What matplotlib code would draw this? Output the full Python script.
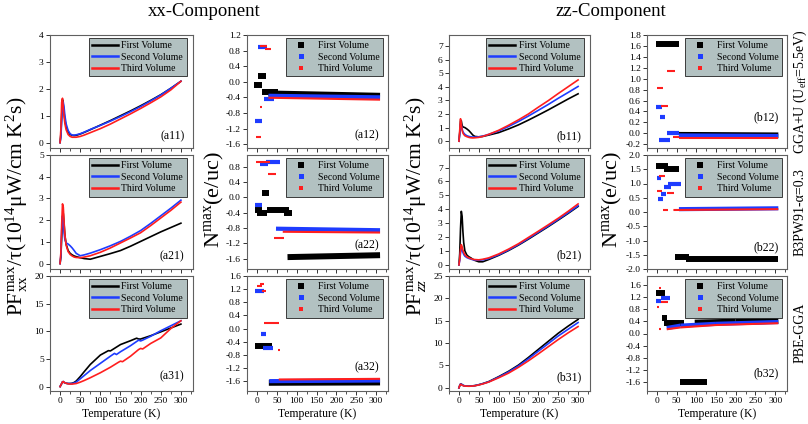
import matplotlib
matplotlib.use('Agg')
import matplotlib.pyplot as plt
from matplotlib.lines import Line2D
from matplotlib.ticker import MultipleLocator

plt.rcParams['font.family'] = ['Liberation Serif', 'DejaVu Serif']
plt.rcParams['mathtext.fontset'] = 'custom'
plt.rcParams['mathtext.rm'] = 'Liberation Serif'
plt.rcParams['mathtext.it'] = 'Liberation Serif:italic'

# ---------------- data ----------------
series_names = ['First Volume', 'Second Volume', 'Third Volume']
colors = ['#000000', '#1e3cff', '#ff1e1e']

T_pf = [0, 2, 4, 6, 8, 10, 12, 15, 20, 25, 30, 35, 40, 50, 60, 75, 100, 125, 150, 175, 200, 225, 250, 275, 300]

a11_first = [0, 0.3, 1.0, 1.6, 1.4, 1.1, 0.85, 0.6, 0.4, 0.3, 0.27, 0.26, 0.27, 0.32, 0.38, 0.48, 0.65, 0.82, 1.0, 1.18, 1.37, 1.57, 1.78, 2.02, 2.28]
a11_second = [0, 0.2, 0.8, 1.45, 1.5, 1.3, 1.0, 0.7, 0.45, 0.33, 0.28, 0.28, 0.29, 0.33, 0.39, 0.49, 0.64, 0.80, 0.97, 1.15, 1.34, 1.55, 1.77, 2.02, 2.28]
a11_third = [0, 0.5, 1.5, 1.65, 1.3, 0.95, 0.7, 0.48, 0.3, 0.23, 0.2, 0.2, 0.2, 0.23, 0.28, 0.37, 0.52, 0.69, 0.88, 1.07, 1.27, 1.48, 1.70, 1.96, 2.28]

a21_first = [0, 0.3, 1.2, 2.1, 2.3, 1.8, 1.3, 0.9, 0.6, 0.47, 0.40, 0.35, 0.32, 0.27, 0.23, 0.20, 0.33, 0.46, 0.60, 0.80, 1.02, 1.24, 1.46, 1.66, 1.86]
a21_second = [0, 0.4, 1.5, 2.2, 1.95, 1.4, 1.1, 0.95, 0.9, 0.82, 0.72, 0.6, 0.47, 0.36, 0.40, 0.48, 0.64, 0.82, 1.02, 1.26, 1.52, 1.85, 2.2, 2.55, 2.92]
a21_third = [0, 0.5, 1.8, 2.75, 2.6, 1.9, 1.3, 0.85, 0.55, 0.42, 0.35, 0.30, 0.28, 0.27, 0.30, 0.36, 0.52, 0.72, 0.95, 1.18, 1.42, 1.75, 2.1, 2.45, 2.83]

a31_first_T = [0, 3, 6, 8, 10, 15, 20, 25, 30, 35, 40, 50, 60, 75, 100, 115, 120, 125, 150, 175, 185, 190, 195, 200, 225, 250, 275, 300]
a31_first = [0, 0.4, 0.85, 0.9, 0.75, 0.6, 0.55, 0.55, 0.6, 0.75, 1.0, 1.8, 2.7, 4.0, 5.7, 6.3, 6.5, 6.45, 7.6, 8.3, 8.6, 8.75, 8.6, 8.6, 9.2, 9.9, 10.6, 11.3]
a31_second_T = [0, 3, 6, 8, 10, 15, 20, 25, 30, 35, 40, 50, 60, 75, 100, 125, 135, 140, 150, 175, 195, 200, 205, 225, 250, 275, 300]
a31_second = [0, 0.4, 0.85, 0.9, 0.75, 0.6, 0.55, 0.55, 0.55, 0.65, 0.8, 1.4, 2.0, 2.9, 4.2, 5.5, 6.0, 5.8, 6.3, 7.4, 8.4, 8.25, 8.4, 9.1, 10.1, 11.0, 11.9]
a31_third_T = [0, 3, 6, 8, 10, 15, 20, 25, 30, 35, 40, 50, 60, 75, 100, 125, 145, 150, 155, 175, 195, 200, 205, 225, 250, 275, 300]
a31_third = [0, 0.4, 0.85, 0.9, 0.75, 0.6, 0.5, 0.45, 0.45, 0.5, 0.55, 0.8, 1.1, 1.6, 2.5, 3.5, 4.4, 4.6, 4.5, 5.5, 6.7, 6.9, 6.8, 7.8, 8.8, 10.5, 11.9]

b11_first = [0, 0.6, 1.5, 1.5, 1.15, 1.05, 1.03, 1.0, 0.9, 0.78, 0.62, 0.45, 0.35, 0.32, 0.35, 0.45, 0.63, 0.9, 1.2, 1.55, 1.92, 2.3, 2.7, 3.1, 3.48]
b11_second = [0, 0.5, 1.25, 1.2, 0.9, 0.7, 0.6, 0.5, 0.4, 0.35, 0.32, 0.3, 0.3, 0.32, 0.37, 0.5, 0.75, 1.08, 1.45, 1.85, 2.27, 2.7, 3.15, 3.58, 4.02]
b11_third = [0, 0.8, 1.65, 1.2, 0.8, 0.6, 0.5, 0.4, 0.33, 0.28, 0.25, 0.24, 0.25, 0.28, 0.35, 0.5, 0.8, 1.17, 1.57, 2.0, 2.5, 2.98, 3.5, 4.0, 4.5]

b21_first = [0, 0.8, 2.6, 3.85, 3.5, 2.4, 1.6, 1.0, 0.7, 0.58, 0.5, 0.4, 0.32, 0.22, 0.22, 0.38, 0.68, 1.03, 1.42, 1.85, 2.3, 2.75, 3.22, 3.7, 4.2]
b21_second = [0, 0.3, 0.85, 1.2, 1.1, 0.9, 0.75, 0.62, 0.52, 0.46, 0.41, 0.37, 0.35, 0.33, 0.36, 0.45, 0.72, 1.07, 1.46, 1.9, 2.35, 2.8, 3.27, 3.75, 4.25]
b21_third = [0, 0.4, 1.1, 1.45, 1.3, 1.05, 0.9, 0.72, 0.58, 0.5, 0.45, 0.4, 0.38, 0.36, 0.4, 0.5, 0.78, 1.13, 1.52, 1.97, 2.42, 2.88, 3.35, 3.85, 4.38]

b31_first = [0, 0.5, 0.85, 0.85, 0.7, 0.6, 0.5, 0.45, 0.4, 0.38, 0.4, 0.45, 0.5, 0.7, 0.95, 1.4, 2.5, 3.7, 5.1, 6.8, 8.6, 10.4, 12.2, 13.8, 15.3]
b31_second = [0, 0.5, 0.85, 0.85, 0.7, 0.6, 0.5, 0.45, 0.4, 0.38, 0.4, 0.45, 0.5, 0.7, 0.93, 1.35, 2.4, 3.55, 4.9, 6.5, 8.2, 9.9, 11.6, 13.1, 14.6]
b31_third = [0, 0.5, 0.8, 0.75, 0.6, 0.5, 0.45, 0.42, 0.38, 0.36, 0.38, 0.42, 0.47, 0.65, 0.88, 1.3, 2.25, 3.3, 4.6, 6.05, 7.6, 9.2, 10.8, 12.3, 13.7]

# N^max runs: (T_start, T_end, N_start, N_end)
a12_first = [(-7, 14, -0.09, -0.09), (2, 23, 0.16, 0.16), (12, 52, -0.25, -0.25), (29, 310, -0.30, -0.36)]
a12_second = [(-5, 12, -1.01, -1.01), (3, 25, 0.88, 0.88), (18, 43, -0.43, -0.43), (29, 310, -0.36, -0.40)]
a12_third = [(-3, 9, -1.42, -1.42), (8, 13, -0.66, -0.66), (8, 25, 0.93, 0.93), (20, 35, 0.84, 0.84), (29, 310, -0.41, -0.46)]

a22_first = [(-5, 12, -0.34, -0.34), (-1, 25, -0.42, -0.42), (14, 31, 0.12, 0.12), (25, 80, -0.34, -0.34), (69, 88, -0.42, -0.42), (77, 310, -1.56, -1.51)]
a22_second = [(-5, 14, -0.21, -0.21), (8, 29, 0.87, 0.87), (23, 57, 0.93, 0.93), (48, 310, -0.82, -0.86)]
a22_third = [(-3, 33, 0.91, 0.91), (29, 48, 0.61, 0.61), (43, 69, -1.05, -1.05), (65, 310, -0.90, -0.92)]

a32_first = [(-4, 38, -0.54, -0.54), (30, 310, -1.65, -1.64)]
a32_second = [(-4, 17, 1.15, 1.15), (10, 24, -0.17, -0.17), (15, 41, -0.60, -0.60), (31, 310, -1.60, -1.58)]
a32_third = [(0, 13, 1.30, 1.30), (8, 17, 1.35, 1.35), (14, 22, 1.13, 1.13), (19, 55, 0.17, 0.17), (52, 57, -0.64, -0.64), (55, 310, -1.55, -1.53)]

b12_first = [(-3, 56, 1.63, 1.63), (56, 308, -0.03, -0.04)]
b12_second = [(-3, 13, 0.49, 0.49), (8, 21, 0.29, 0.29), (6, 33, -0.12, -0.12), (25, 56, 0.0, 0.0), (56, 308, -0.04, -0.05)]
b12_third = [(0, 15, 0.82, 0.82), (11, 29, 0.50, 0.50), (25, 46, 1.14, 1.14), (42, 56, -0.07, -0.07), (56, 308, -0.09, -0.09)]

b22_first = [(-3, 29, 1.62, 1.62), (19, 56, 1.52, 1.52), (46, 81, -1.57, -1.57), (75, 308, -1.65, -1.65)]
b22_second = [(0, 11, 1.18, 1.18), (4, 15, 0.45, 0.45), (11, 23, 0.62, 0.62), (17, 36, 0.88, 0.88), (29, 62, 1.0, 1.0), (56, 308, 0.10, 0.13)]
b22_third = [(6, 21, 1.27, 1.27), (0, 13, 0.72, 0.72), (25, 44, 0.67, 0.67), (15, 28, 0.07, 0.07), (42, 308, 0.07, 0.10)]

b32_first = [(-3, 21, 1.35, 1.35), (13, 25, 0.50, 0.50), (17, 69, 0.35, 0.35), (58, 128, -1.60, -1.60), (96, 200, 0.36, 0.39), (200, 308, 0.39, 0.42)]
b32_second = [(-3, 11, 1.08, 1.08), (11, 33, 1.17, 1.17), (25, 60, 0.18, 0.26), (60, 150, 0.26, 0.32), (150, 308, 0.32, 0.38)]
b32_third = [(6, 11, 1.50, 1.50), (0, 6, 0.87, 0.87), (6, 11, 0.14, 0.14), (11, 29, 1.04, 1.04), (25, 60, 0.14, 0.20), (60, 150, 0.20, 0.28), (150, 308, 0.28, 0.34)]

# ---------------- layout ----------------
W, H = 808, 424
fig = plt.figure(figsize=(W / 100, H / 100), dpi=100)

cols = [(50, 193), (247, 388), (449, 590), (647, 787)]
rows = [(35, 148), (155, 269), (276, 391)]

def add_ax(c, r):
    l, rr = cols[c]
    t, b = rows[r]
    return fig.add_axes([l / W, 1 - b / H, (rr - l) / W, (b - t) / H])

legend_face = '#b2c1c1'
tick_fs = 6.8
spine_col = '#606060'

def style(ax, ylim, ystep, bottom, yfmt):
    ax.set_xlim(-25, 330)
    ax.set_ylim(*ylim)
    ax.xaxis.set_major_locator(MultipleLocator(50))
    ax.xaxis.set_minor_locator(MultipleLocator(25))
    ax.yaxis.set_major_locator(MultipleLocator(ystep))
    ax.tick_params(direction='out', length=3, width=0.7, labelsize=tick_fs, pad=1.5,
                   colors='#333333', labelcolor='black')
    ax.tick_params(which='minor', direction='out', length=2, width=0.6, colors='#333333')
    for s in ax.spines.values():
        s.set_color(spine_col)
        s.set_linewidth(0.8)
    if yfmt:
        ax.yaxis.set_major_formatter(matplotlib.ticker.FormatStrFormatter(yfmt))
    if bottom:
        ax.set_xlabel('Temperature (K)', fontsize=8.5, labelpad=2)
    else:
        ax.tick_params(labelbottom=False)

def pf_legend(ax):
    handles = [Line2D([], [], color=c, lw=1.8) for c in colors]
    leg = ax.legend(handles, series_names, loc='upper right', bbox_to_anchor=(0.955, 0.975),
                    borderaxespad=0, fontsize=7, frameon=True, fancybox=False,
                    facecolor=legend_face, edgecolor='#222222', framealpha=1,
                    handlelength=2.6, handletextpad=0.4, labelspacing=0.25, borderpad=0.35)
    leg.get_frame().set_linewidth(0.6)

marker_sizes = [5.0, 3.6, 2.2]
bar_widths = [4.3, 3.0, 1.5]

def n_legend(ax):
    handles = [Line2D([], [], color=c, marker='s', ls='none', markersize=m, markeredgewidth=0)
               for c, m in zip(colors, marker_sizes)]
    leg = ax.legend(handles, series_names, loc='upper right', bbox_to_anchor=(0.965, 0.975),
                    borderaxespad=0, fontsize=7, frameon=True, fancybox=False,
                    facecolor=legend_face, edgecolor='#222222', framealpha=1,
                    handlelength=2.4, handletextpad=0.5, labelspacing=0.25, borderpad=0.35)
    leg.get_frame().set_linewidth(0.6)

def panel_tag(ax, txt, yfrac):
    ax.text(0.94, yfrac, txt, transform=ax.transAxes, ha='right', va='center', fontsize=8.5)

pf_panels = [
    (0, 0, T_pf, [a11_first, a11_second, a11_third], None, (-0.2, 4), 1, '(a11)', 0.10),
    (0, 1, T_pf, [a21_first, a21_second, a21_third], None, (-0.25, 5), 1, '(a21)', 0.11),
    (0, 2, None, [a31_first, a31_second, a31_third], [a31_first_T, a31_second_T, a31_third_T], (-0.8, 20), 5, '(a31)', 0.13),
    (2, 0, T_pf, [b11_first, b11_second, b11_third], None, (-0.5, 7.8), 1, '(b11)', 0.10),
    (2, 1, T_pf, [b21_first, b21_second, b21_third], None, (-0.3, 7.9), 1, '(b21)', 0.12),
    (2, 2, T_pf, [b31_first, b31_second, b31_third], None, (-0.7, 25), 5, '(b31)', 0.12),
]

for c, r, T, ys, Ts, ylim, ystep, tag, tagy in pf_panels:
    ax = add_ax(c, r)
    for i, (y, col) in enumerate(zip(ys, colors)):
        x = Ts[i] if Ts else T
        ax.plot(x, y, color=col, lw=1.2)
    style(ax, ylim, ystep, r == 2, '%d')
    pf_legend(ax)
    panel_tag(ax, tag, tagy)

n_panels = [
    (1, 0, [a12_first, a12_second, a12_third], (-1.7, 1.2), 0.4, '(a12)', 0.11),
    (1, 1, [a22_first, a22_second, a22_third], (-1.87, 1.1), 0.4, '(a22)', 0.21),
    (1, 2, [a32_first, a32_second, a32_third], (-1.9, 1.6), 0.4, '(a32)', 0.21),
    (3, 0, [b12_first, b12_second, b12_third], (-0.27, 1.8), 0.2, '(b12)', 0.27),
    (3, 1, [b22_first, b22_second, b22_third], (-2.0, 2.0), 0.5, '(b22)', 0.19),
    (3, 2, [b32_first, b32_second, b32_third], (-1.9, 1.9), 0.4, '(b32)', 0.15),
]

for c, r, runs, ylim, ystep, tag, tagy in n_panels:
    ax = add_ax(c, r)
    for segs, col, lw in zip(runs, colors, bar_widths):
        for t0, t1, n0, n1 in segs:
            ax.plot([t0, t1], [n0, n1], color=col, lw=lw, solid_capstyle='butt')
    style(ax, ylim, ystep, r == 2, '%.1f')
    n_legend(ax)
    panel_tag(ax, tag, tagy)

# titles and labels
fig.text(204 / W, 1 - 12 / H, 'xx-Component', ha='center', va='center', fontsize=13.5)
fig.text(611 / W, 1 - 12 / H, 'zz-Component', ha='center', va='center', fontsize=13.5)

fig.text(17 / W, 1 - 206 / H, r'PF$_{\rm xx}^{\rm max}$/τ(10$^{\rm 14}$μW/cm K$^{\rm 2}$s)',
         rotation=90, ha='center', va='center', fontsize=15.5)
fig.text(416 / W, 1 - 206 / H, r'PF$_{zz}^{\rm max}$/τ(10$^{\rm 14}$μW/cm K$^{\rm 2}$s)',
         rotation=90, ha='center', va='center', fontsize=15.5)
fig.text(214 / W, 1 - 200 / H, r'N$^{\rm max}$(e/uc)', rotation=90, ha='center', va='center', fontsize=16)
fig.text(612 / W, 1 - 200 / H, r'N$^{\rm max}$(e/uc)', rotation=90, ha='center', va='center', fontsize=16)

fig.text(800 / W, 1 - 92 / H, r'GGA+U (U$_{\rm eff}$=5.5eV)', rotation=90, ha='center', va='center', fontsize=10)
fig.text(800 / W, 1 - 212 / H, 'B3PW91-α=0.3', rotation=90, ha='center', va='center', fontsize=10)
fig.text(800 / W, 1 - 333 / H, 'PBE-GGA', rotation=90, ha='center', va='center', fontsize=10)

fig.savefig('out.png', dpi=100)
